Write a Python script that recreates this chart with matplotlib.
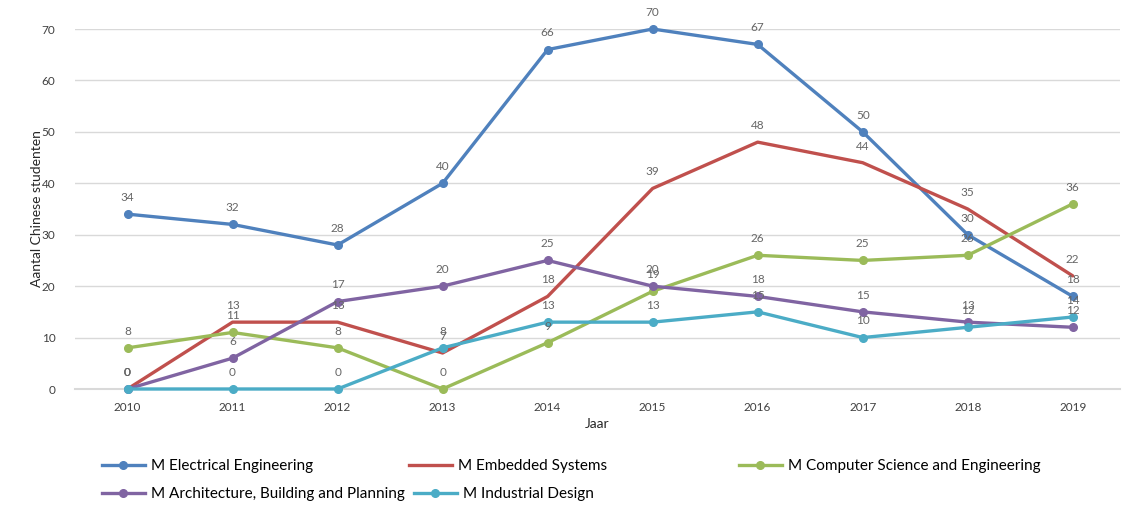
import matplotlib
matplotlib.use("Agg")
import matplotlib.pyplot as plt
from matplotlib.lines import Line2D

plt.rcParams['font.family'] = ['Lato', 'DejaVu Sans']

years = [2010, 2011, 2012, 2013, 2014, 2015, 2016, 2017, 2018, 2019]
series_names = [
    "M Electrical Engineering",
    "M Embedded Systems",
    "M Computer Science and Engineering",
    "M Architecture, Building and Planning",
    "M Industrial Design",
]
electrical = [34, 32, 28, 40, 66, 70, 67, 50, 30, 18]
embedded = [0, 13, 13, 7, 18, 39, 48, 44, 35, 22]
computer = [8, 11, 8, 0, 9, 19, 26, 25, 26, 36]
architecture = [0, 6, 17, 20, 25, 20, 18, 15, 13, 12]
industrial = [0, 0, 0, 8, 13, 13, 15, 10, 12, 14]
values = [electrical, embedded, computer, architecture, industrial]
colors = ["#4F81BD", "#C0504D", "#9BBB59", "#8064A2", "#4BACC6"]
has_marker = [True, False, True, True, True]
yticks = [0, 10, 20, 30, 40, 50, 60, 70]

fig = plt.figure(figsize=(11.36, 5.11), dpi=100)
ax = fig.add_axes([75/1136, 1-389/511, (1120-75)/1136, (389-29)/511])

xs = list(range(len(years)))
handles = []
for name, vals, c, m in zip(series_names, values, colors, has_marker):
    h, = ax.plot(xs, vals, color=c, lw=2.4, marker='o' if m else None,
                 markersize=5.5, solid_capstyle='round', clip_on=False, zorder=3)
    handles.append(h)
    for x, v in zip(xs, vals):
        ax.annotate(str(v), (x, v), xytext=(0, 8), textcoords='offset points',
                    ha='center', va='bottom', fontsize=8.5, color='#666666',
                    annotation_clip=False, zorder=4)

ax.set_xlim(-0.5, 9.45)
ax.set_ylim(0, 70)
ax.set_yticks(yticks)
ax.set_xticks(xs)
ax.set_xticklabels([str(y) for y in years])
ax.grid(axis='y', color='#D9D9D9', lw=1)
ax.set_axisbelow(True)
for s in ['top', 'right', 'left']:
    ax.spines[s].set_visible(False)
ax.spines['bottom'].set_color('#D9D9D9')
ax.spines['bottom'].set_linewidth(1.5)
ax.tick_params(axis='both', length=0, labelsize=8.5, labelcolor='#404040')
ax.tick_params(axis='y', pad=14)
ax.tick_params(axis='x', pad=9)
ax.set_xlabel("Jaar", fontsize=10, color='#262626', labelpad=4)
ax.set_ylabel("Aantal Chinese studenten", fontsize=10, color='#262626', labelpad=-1)

# legend items laid out as in the reference
positions = [(102, 466), (409, 466), (739, 466), (102, 494), (414, 494)]
for h, name, (px, py) in zip(handles, series_names, positions):
    lh = Line2D([], [], color=h.get_color(), lw=2.4, marker=h.get_marker(), markersize=5.5)
    fig.legend([lh], [name], loc='center left', bbox_to_anchor=(px/1136, 1-py/511),
               frameon=False, fontsize=11, handlelength=2.8, handletextpad=0.4,
               borderaxespad=0, borderpad=0)

fig.savefig("out.png", dpi=100)
